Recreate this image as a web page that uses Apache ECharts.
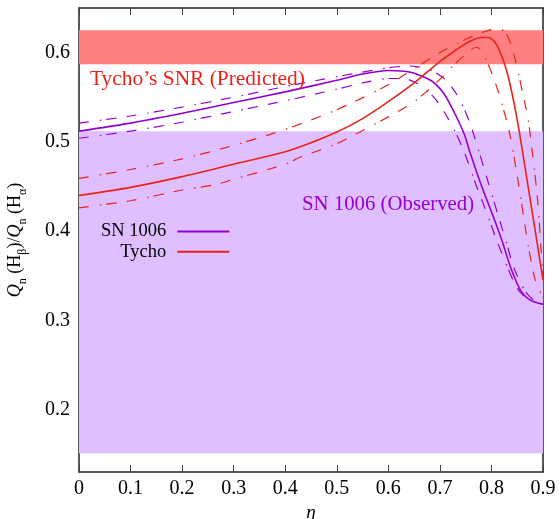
<!DOCTYPE html>
<html>
<head>
<meta charset="utf-8">
<script src="https://cdn.jsdelivr.net/npm/echarts@6/dist/echarts.min.js"></script>
<style>
html,body{margin:0;padding:0;background:#fff;}
#c{width:560px;height:519px;}
</style>
</head>
<body>
<div id="c"></div>
<script>
// ---- data ----
const xTicks = [0, 0.1, 0.2, 0.3, 0.4, 0.5, 0.6, 0.7, 0.8, 0.9];
const yTicks = [0.2, 0.3, 0.4, 0.5, 0.6];

const bandTycho = [0.587, 0.625];
const bandSN1006 = [0.151, 0.512];

const sn1006SolidEta = [0,0.1,0.2,0.3,0.4,0.5,0.55,0.6,0.643,0.682,0.708,0.727,0.747,0.758,0.78,0.805,0.82,0.838,0.857,0.877,0.9];
const sn1006SolidVal = [0.512,0.521,0.532,0.544,0.556,0.569,0.576,0.580,0.578,0.569,0.554,0.534,0.509,0.489,0.452,0.414,0.390,0.358,0.333,0.322,0.318];

const sn1006UpperEta = [0,0.1,0.2,0.3,0.4,0.5,0.6,0.64,0.68,0.71,0.735,0.757,0.776,0.795,0.815,0.83,0.844,0.865,0.885,0.9];
const sn1006UpperVal = [0.521,0.529,0.539,0.550,0.562,0.573,0.583,0.585,0.581,0.570,0.551,0.523,0.489,0.452,0.414,0.385,0.358,0.333,0.321,0.318];

const sn1006LowerEta = [0,0.1,0.2,0.3,0.4,0.5,0.55,0.6,0.63,0.66,0.69,0.71,0.73,0.747,0.77,0.795,0.81,0.832,0.85,0.87,0.9];
const sn1006LowerVal = [0.504,0.512,0.522,0.534,0.546,0.559,0.566,0.571,0.571,0.564,0.549,0.532,0.511,0.489,0.452,0.414,0.390,0.358,0.336,0.324,0.318];

const tychoSolidEta = [0,0.1,0.2,0.3,0.4,0.45,0.5,0.55,0.6,0.65,0.7,0.75,0.78,0.795,0.81,0.825,0.835,0.845,0.855,0.865,0.875,0.885,0.9];
const tychoSolidVal = [0.440,0.449,0.461,0.475,0.489,0.499,0.511,0.526,0.545,0.566,0.590,0.610,0.617,0.617,0.609,0.588,0.567,0.540,0.508,0.472,0.436,0.400,0.345];

const tychoUpperEta = [0,0.1,0.2,0.3,0.4,0.5,0.6,0.65,0.7,0.75,0.78,0.8,0.815,0.828,0.84,0.85,0.86,0.871,0.88,0.89,0.9];
const tychoUpperVal = [0.459,0.469,0.481,0.496,0.514,0.536,0.564,0.582,0.600,0.615,0.622,0.626,0.627,0.622,0.605,0.583,0.556,0.526,0.485,0.432,0.345];

const tychoLowerEta = [0,0.1,0.2,0.264,0.3,0.4,0.43,0.5,0.6,0.65,0.7,0.725,0.75,0.77,0.78,0.8,0.815,0.834,0.85,0.871,0.885,0.9];
const tychoLowerVal = [0.426,0.434,0.446,0.452,0.458,0.475,0.483,0.498,0.528,0.545,0.570,0.585,0.598,0.606,0.603,0.578,0.553,0.513,0.462,0.385,0.345,0.325];

// ---- styles ----
const PURPLE = '#9400d3';
const RED = '#e8231a';
const FONT = 'Liberation Serif';
const dashDot = [10, 11, 1.5, 5, 10.5, 10];

function pairs(xs, ys) { return xs.map((x, i) => [x, ys[i]]); }

function lineSeries(name, xs, ys, color, dashed) {
  return {
    name: name,
    type: 'line',
    data: pairs(xs, ys),
    symbol: 'none',
    showSymbol: false,
    smooth: 0.25,
    z: 5,
    lineStyle: { color: color, width: dashed ? 1.2 : 1.6, type: dashed ? dashDot : 'solid' },
    itemStyle: { color: color }
  };
}

const chart = echarts.init(document.getElementById('c'), null, { renderer: 'canvas' });

const fmt = v => (Math.abs(v) < 1e-9 ? '0' : (+v).toFixed(1));

const option = {
  animation: false,
  backgroundColor: '#fff',
  grid: { left: 79, right: 17, top: 8, bottom: 47, containLabel: false, outerBoundsMode: 'none' },
  legend: {
    data: ['SN 1006', 'Tycho'],
    orient: 'vertical',
    align: 'right',
    left: 101,
    top: 222,
    padding: 0,
    icon: 'rect',
    itemWidth: 52,
    itemHeight: 2,
    itemGap: 1.3,
    textStyle: { fontFamily: FONT, fontSize: 18.5, lineHeight: 18, color: '#000', padding: [0, 6, 0, 0] }
  },
  xAxis: [
    {
      type: 'value', min: 0, max: 0.9, interval: 0.1, position: 'bottom',
      name: 'η', nameLocation: 'middle', nameGap: 25,
      nameTextStyle: { fontFamily: FONT, fontSize: 19, fontStyle: 'italic', color: '#000' },
      axisLine: { show: true, onZero: false, lineStyle: { color: '#222', width: 1.5 } },
      axisTick: { show: true, inside: true, length: 7, lineStyle: { color: '#444' } },
      axisLabel: { fontFamily: FONT, fontSize: 20, color: '#000', margin: 7, formatter: fmt },
      splitLine: { show: false }
    },
    {
      type: 'value', min: 0, max: 0.9, interval: 0.1, position: 'top',
      axisLine: { show: true, onZero: false, lineStyle: { color: '#222', width: 1.5 } },
      axisTick: { show: true, inside: true, length: 7, lineStyle: { color: '#444' } },
      axisLabel: { show: false },
      splitLine: { show: false }
    }
  ],
  yAxis: [
    {
      type: 'value', min: 0.13, max: 0.65, position: 'left',
      name: '{i|Q}{s|n} (H{s|β})/{i|Q}{s|n} (H{s|α})',
      nameLocation: 'middle', nameGap: 50, nameRotate: 90,
      nameTextStyle: {
        fontFamily: FONT, fontSize: 18, color: '#000', lineHeight: 28,
        rich: {
          i: { fontFamily: FONT, fontSize: 18, fontStyle: 'italic', color: '#000', lineHeight: 28 },
          s: { fontFamily: FONT, fontSize: 12, color: '#000', verticalAlign: 'bottom', lineHeight: 12 }
        }
      },
      axisLine: { show: true, onZero: false, lineStyle: { color: '#222', width: 1.5 } },
      axisTick: { show: false },
      axisLabel: { fontFamily: FONT, fontSize: 20, color: '#000', margin: 9, customValues: yTicks, formatter: fmt },
      splitLine: { show: false }
    },
    {
      type: 'value', min: 0.13, max: 0.65, position: 'right',
      axisLine: { show: true, onZero: false, lineStyle: { color: '#222', width: 1.5 } },
      axisTick: { show: false },
      axisLabel: { show: false },
      splitLine: { show: false }
    }
  ],
  graphic: [
    { type: 'text', x: 90, y: 79, z: 10,
      style: { text: 'Tycho’s SNR (Predicted)', fontFamily: FONT, fontSize: 21.4, fill: RED, verticalAlign: 'middle' } },
    { type: 'text', x: 302, y: 205, z: 10,
      style: { text: 'SN 1006 (Observed)', fontFamily: FONT, fontSize: 20.8, fill: PURPLE, verticalAlign: 'middle' } }
  ],
  series: [
    {
      name: 'bands', type: 'line', data: [], z: 1, silent: true,
      markArea: {
        silent: true,
        data: [
          [{ yAxis: bandSN1006[0], itemStyle: { color: '#dfbfff', opacity: 1 } }, { yAxis: bandSN1006[1] }],
          [{ yAxis: bandTycho[0], itemStyle: { color: '#ff8080', opacity: 1 } }, { yAxis: bandTycho[1] }]
        ]
      }
    },
    lineSeries('SN 1006 upper', sn1006UpperEta, sn1006UpperVal, PURPLE, true),
    lineSeries('SN 1006 lower', sn1006LowerEta, sn1006LowerVal, PURPLE, true),
    lineSeries('Tycho upper', tychoUpperEta, tychoUpperVal, RED, true),
    lineSeries('Tycho lower', tychoLowerEta, tychoLowerVal, RED, true),
    lineSeries('SN 1006', sn1006SolidEta, sn1006SolidVal, PURPLE, false),
    lineSeries('Tycho', tychoSolidEta, tychoSolidVal, RED, false)
  ]
};

chart.setOption(option);
</script>
</body>
</html>
